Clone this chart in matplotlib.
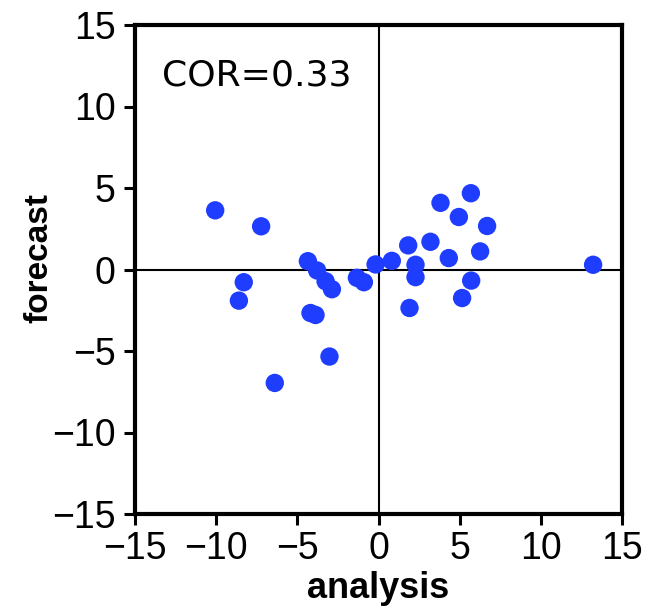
import matplotlib
matplotlib.use("Agg")
import matplotlib.pyplot as plt

analysis = [-10.06, -7.23, -8.30, -8.60, -4.35, -3.78, -3.26, -2.87, -4.19, -3.88,
            -3.02, -6.39, -1.33, -0.90, -0.18, 0.82, 1.83, 2.28, 2.28, 1.91,
            3.20, 3.82, 4.33, 4.95, 5.69, 6.69, 6.26, 5.71, 5.15, 13.22]
forecast = [3.63, 2.65, -0.78, -1.91, 0.51, -0.06, -0.72, -1.21, -2.67, -2.79,
            -5.34, -6.96, -0.51, -0.78, 0.31, 0.53, 1.48, 0.29, -0.47, -2.36,
            1.70, 4.09, 0.70, 3.22, 4.68, 2.67, 1.11, -0.68, -1.75, 0.29]
ticks = [-15, -10, -5, 0, 5, 10, 15]
cor_text = "COR=0.33"

plt.rcParams['font.family'] = ['Liberation Sans', 'DejaVu Sans']

fig = plt.figure(figsize=(6.58, 6.09), dpi=100)
ax = fig.add_axes([135 / 658, 95 / 609, 487 / 658, 489 / 609])
ax.axhline(0, color='black', lw=1.5, zorder=1)
ax.axvline(0, color='black', lw=1.5, zorder=1)
ax.scatter(analysis, forecast, s=175, color='#1f3dff', edgecolors='none', zorder=3)
ax.set_xlim(-15, 15)
ax.set_ylim(-15, 15)
ax.set_xticks(ticks)
ax.set_yticks(ticks)
labels = [str(t).replace('-', '\u2212') for t in ticks]
ax.set_xticklabels(labels, fontsize=27)
ax.set_yticklabels(labels, fontsize=27)
ax.tick_params(direction='out', length=8, width=2.2, top=False, right=False)
ax.tick_params(axis='x', pad=4)
ax.tick_params(axis='y', pad=6)
for s in ax.spines.values():
    s.set_linewidth(3)
ax.set_xlabel('analysis', fontsize=26, fontweight='bold')
ax.set_ylabel('forecast', fontsize=24, fontweight='bold')
ax.xaxis.set_label_coords(0.5, -0.116)
ax.yaxis.set_label_coords(-0.165, 0.523)
ax.text(-13.35, 11.92, cor_text, fontsize=26, ha='left', va='center',
        family=['DejaVu Sans'])
fig.savefig('out.png', dpi=100)
